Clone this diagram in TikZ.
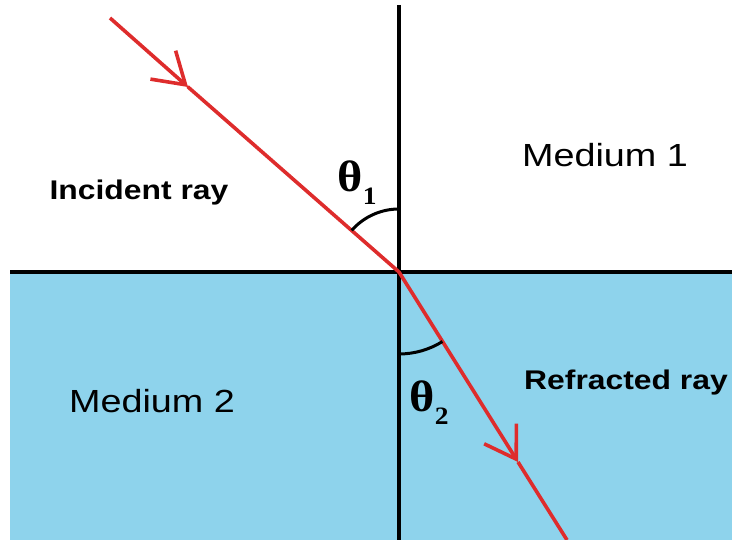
\documentclass[tikz,border=0pt]{standalone}
\usepackage{fontspec}
\setmainfont{Liberation Sans}
\newfontfamily\thetafont{Liberation Serif}
\usepackage{tikz}
\usetikzlibrary{arrows.meta,positioning,calc}
\usepackage{xcolor}
\definecolor{waterblue}{RGB}{142,211,236}
\definecolor{rayred}{RGB}{222,44,44}

\newcommand{\angsym}[1]{{\thetafont\bfseries θ\raisebox{-0.3em}{\fontsize{25}{25}\selectfont #1}}}

\begin{document}
\begin{tikzpicture}[x=1pt, y=1pt,
    ray/.style={draw=rayred, line width=3.6pt},
    midarrow/.style={-{Straight Barb[length=30pt,width=38pt,line width=3.6pt]}},
    plain/.style={font=\fontsize{32}{36}\selectfont, xscale=1.18},
    bold/.style={font=\fontsize{27}{30}\selectfont\bfseries, xscale=1.18},
    angle/.style={font=\fontsize{44}{48}\selectfont, xscale=1.1}]
            \useasboundingbox (0,0) rectangle (732,540);
            % Medium 2
            \fill[waterblue] (10,0) rectangle (732,268);

            % Normal and interface
            \coordinate (o) at (399,268);
            \coordinate (ntop) at (399,535);
            \coordinate (nbot) at (399,0);
            \coordinate (sl) at (10,268);
            \coordinate (sr) at (732,268);
            \draw[line width=4.5pt] (ntop) -- (nbot);
            \draw[line width=4.5pt] (sl) -- (sr);

            % Rays
            \coordinate (inc) at (110,522);
            \coordinate (incm) at (188,453);
            \coordinate (ref) at (567,0);
            \coordinate (refm) at (518,78);
            \draw[ray, midarrow] (inc) -- (incm);
            \draw[ray, line cap=round] (incm) -- (o);
            \draw[ray, midarrow] (o) -- (refm);
            \draw[ray] (refm) -- (ref);

            % Angles
            \draw[line width=3pt] ($(o)+(90:63)$) arc (90:138.7:63);
            \draw[line width=3pt] ($(o)+(270:82)$) arc (270:302:82);
            \node[angle] (t1) at (357,357) {\angsym{1}};
            \node[angle] (t2) at (429,137) {\angsym{2}};

            % Labels
            \node[plain] (m1) at (605,385) {Medium 1};
            \node[plain] (m2) at (152,139) {Medium 2};
            \node[bold] (ir) at (139,347) {Incident ray};
            \node[bold] (rr) at (626,157) {Refracted ray};
        \end{tikzpicture}
\end{document}
